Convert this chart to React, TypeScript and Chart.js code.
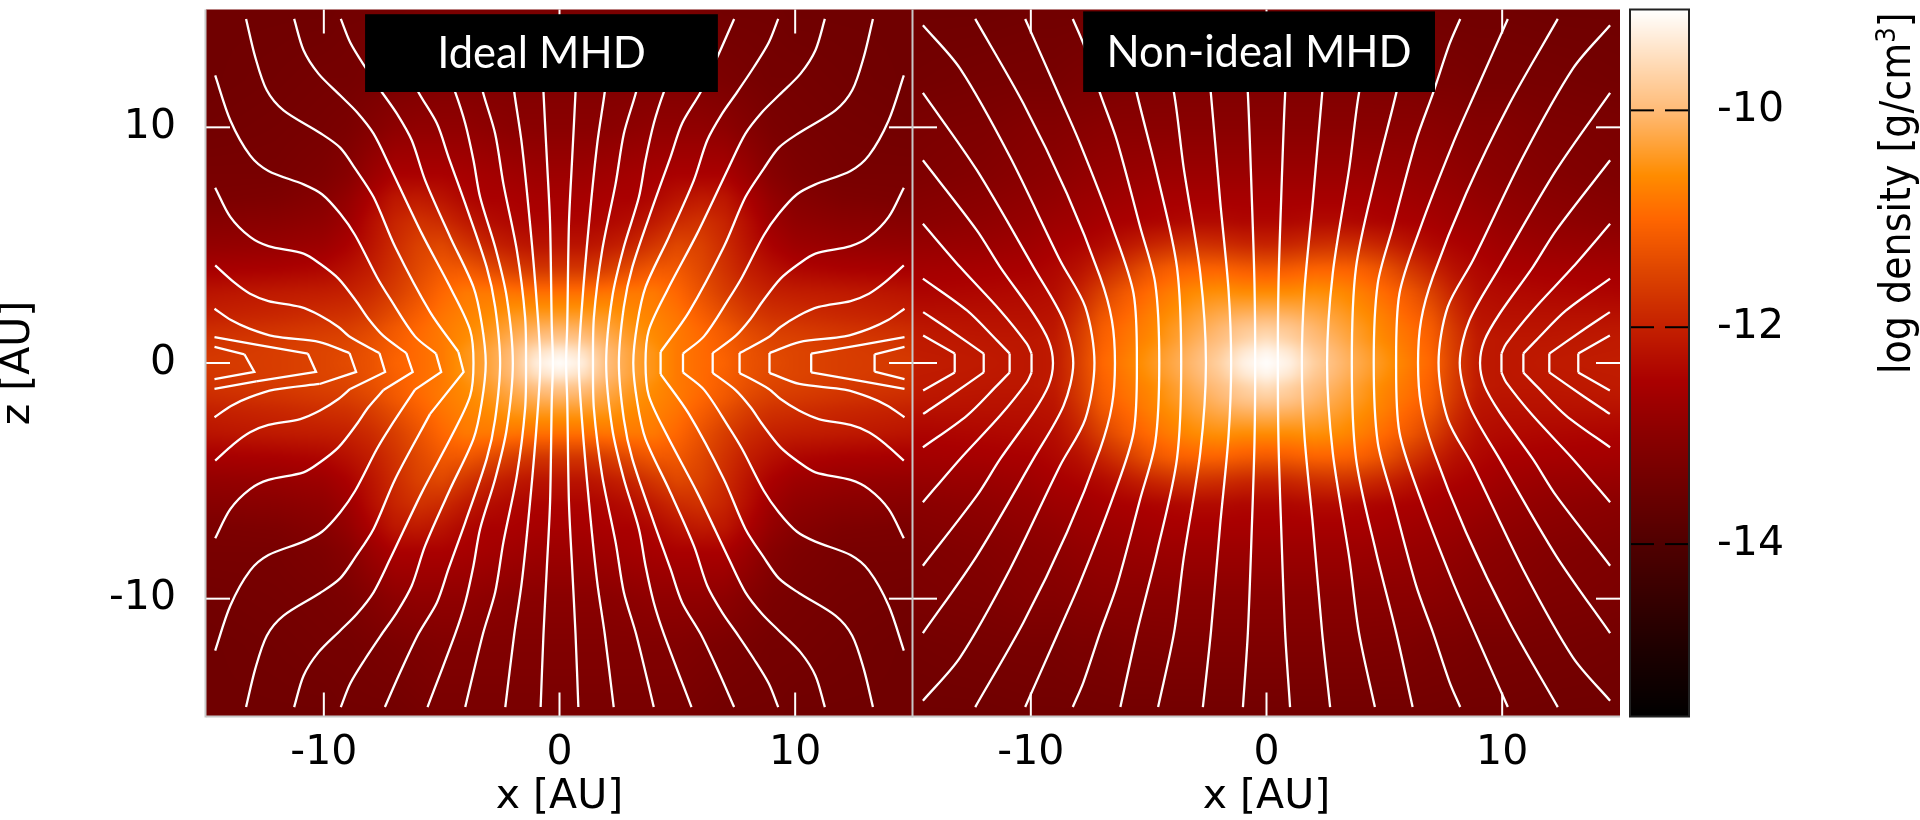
import React, { useEffect, useRef } from "react";
import { Chart, registerables } from "chart.js";

Chart.register(...registerables);

// ---- axes
const axisTicks = [-14, -12, -10, -8, -6, -4, -2, 0, 2, 4, 6, 8, 10, 12, 14];
const labelledTicks = [-10, 0, 10];
const colorbarTicks = [-15, -14, -13, -12, -11, -10];
const colorbarLabels = [-14, -12, -10];

// ---- colour table (log density -> colour)
const colorLevels = [-15.6, -15, -14, -13, -12.5, -12, -11.5, -11, -10.6, -10, -9.07];
const colorValues = [
  [0, 0, 0], [28, 0, 0], [80, 0, 0], [138, 0, 0], [170, 0, 0], [196, 32, 0],
  [221, 68, 0], [255, 102, 0], [255, 140, 0], [255, 187, 119], [255, 255, 255],
];

// ---- log density, one quadrant (|x|, |z|)
const densityXNodes = [0, 1, 2, 3, 4, 5, 6, 7, 8, 9, 10, 12, 15];
const densityZNodes = [0, 0.5, 1, 1.5, 2, 3, 4, 5, 6, 7, 8, 10, 12, 15];
const idealDensity = [
  [-9.07, -9.3, -9.95, -10.3, -10.5, -10.8, -10.95, -11.05, -11.3, -11.4, -11.5, -11.6, -11.65],
  [-9.3, -9.5, -10, -10.3, -10.5, -10.8, -10.95, -11.1, -11.3, -11.45, -11.5, -11.6, -11.7],
  [-9.8, -9.9, -10.15, -10.4, -10.6, -10.8, -10.95, -11.15, -11.35, -11.5, -11.55, -11.65, -11.75],
  [-10.1, -10.15, -10.3, -10.5, -10.65, -10.8, -11, -11.2, -11.45, -11.6, -11.65, -11.75, -11.85],
  [-10.4, -10.4, -10.45, -10.6, -10.7, -10.85, -11.1, -11.35, -11.6, -11.75, -11.8, -11.9, -12],
  [-10.9, -10.9, -10.85, -10.8, -10.8, -11, -11.3, -11.6, -11.85, -12, -12.05, -12.1, -12.2],
  [-11.7, -11.7, -11.6, -11.4, -11.2, -11.2, -11.45, -11.75, -12.05, -12.25, -12.4, -12.5, -12.55],
  [-12.2, -12.2, -12.1, -11.95, -11.7, -11.45, -11.55, -11.85, -12.2, -12.5, -12.7, -12.8, -12.85],
  [-12.45, -12.45, -12.4, -12.3, -12.1, -11.85, -11.75, -11.95, -12.3, -12.7, -12.9, -13, -13.05],
  [-12.55, -12.55, -12.5, -12.5, -12.4, -12.2, -12.1, -12.15, -12.5, -12.85, -13.05, -13.2, -13.25],
  [-12.7, -12.7, -12.65, -12.6, -12.55, -12.5, -12.5, -12.5, -12.75, -13.05, -13.2, -13.3, -13.3],
  [-13, -13, -13, -12.95, -12.9, -12.9, -12.9, -12.95, -13.1, -13.25, -13.3, -13.35, -13.4],
  [-13.15, -13.15, -13.15, -13.15, -13.15, -13.15, -13.2, -13.25, -13.3, -13.35, -13.35, -13.4, -13.45],
  [-13.3, -13.3, -13.3, -13.3, -13.3, -13.3, -13.35, -13.4, -13.4, -13.4, -13.45, -13.45, -13.45],
];
const nonIdealDensity = [
  [-9.07, -9.25, -9.7, -10, -10.25, -10.5, -10.75, -11, -11.6, -12.1, -12.15, -12.1, -12.05],
  [-9.2, -9.4, -9.8, -10.05, -10.3, -10.55, -10.8, -11.05, -11.62, -12.1, -12.15, -12.12, -12.08],
  [-9.5, -9.7, -9.95, -10.15, -10.4, -10.65, -10.85, -11.1, -11.65, -12.1, -12.15, -12.15, -12.1],
  [-9.75, -9.85, -10.05, -10.25, -10.45, -10.7, -10.9, -11.15, -11.7, -12.15, -12.2, -12.2, -12.15],
  [-10.05, -10.1, -10.2, -10.35, -10.55, -10.75, -11, -11.25, -11.8, -12.2, -12.25, -12.25, -12.25],
  [-10.6, -10.6, -10.55, -10.6, -10.75, -10.95, -11.2, -11.55, -12, -12.3, -12.35, -12.4, -12.45],
  [-11.2, -11.15, -11.05, -11.05, -11.1, -11.3, -11.65, -11.95, -12.25, -12.4, -12.5, -12.55, -12.6],
  [-11.95, -11.9, -11.8, -11.75, -11.8, -11.95, -12.15, -12.35, -12.45, -12.55, -12.65, -12.75, -12.8],
  [-12.4, -12.4, -12.35, -12.35, -12.4, -12.45, -12.5, -12.55, -12.65, -12.7, -12.8, -12.9, -13],
  [-12.55, -12.55, -12.55, -12.55, -12.55, -12.6, -12.65, -12.7, -12.75, -12.85, -12.9, -13, -13.1],
  [-12.72, -12.72, -12.72, -12.72, -12.72, -12.75, -12.78, -12.82, -12.88, -12.95, -13, -13.1, -13.2],
  [-13, -13, -13, -13, -13, -13, -13, -13, -13.05, -13.1, -13.1, -13.2, -13.25],
  [-13.18, -13.18, -13.18, -13.18, -13.18, -13.2, -13.2, -13.25, -13.25, -13.3, -13.3, -13.32, -13.38],
  [-13.4, -13.4, -13.4, -13.4, -13.4, -13.4, -13.4, -13.4, -13.42, -13.42, -13.42, -13.45, -13.45],
];

// ---- field lines, upper-left quadrant, [x, z]
const idealLines = [
  [[-14.64, 0.68], [-13.37, 0.37]],
  [[-14.64, 1.1], [-12.87, 0.78], [-10.68, 0.4]],
  [[-14.64, 2.3], [-13.94, 1.82], [-13.16, 1.46], [-12.1, 1.13], [-10.18, 0.89], [-8.91, 0.42]],
  [[-14.61, 4.14], [-13.83, 3.44], [-13.13, 2.94], [-12.35, 2.63], [-11, 2.38], [-10.16, 2.02], [-9.38, 1.53], [-8.88, 1.1], [-7.64, 0.42]],
  [[-14.61, 7.44], [-13.97, 6.2], [-13.13, 5.35], [-12.35, 4.96], [-10.86, 4.64], [-10.16, 4.21], [-9.38, 3.58], [-8.6, 2.59], [-8.11, 1.88], [-7.47, 1.15], [-6.5, 0.42]],
  [[-14.61, 12.2], [-13.97, 10.3], [-13.13, 8.81], [-12.35, 8.15], [-10.86, 7.58], [-10.08, 7.16], [-9.31, 6.34], [-8.67, 5.42], [-7.75, 3.65], [-7.19, 2.73], [-6.13, 1.13], [-5.24, 0.4]],
  [[-13.3, 14.6], [-12.91, 12.98], [-12.42, 11.57], [-11.71, 10.72], [-10.16, 9.76], [-9.31, 9.14], [-8.67, 8.25], [-7.89, 7.04], [-6.97, 4.92], [-5.49, 2.16], [-4.29, 0.47]],
  [[-11.26, 14.6], [-10.86, 13.27], [-10.23, 12.28], [-9.31, 11.36], [-8.6, 10.65], [-7.89, 9.73], [-7.19, 8.32], [-5.84, 5.49], [-4.57, 3.08], [-3.79, 1.39], [-3.65, 0]],
  [[-9.28, 14.6], [-8.88, 13.6], [-8.25, 12.56], [-7.54, 11.5], [-6.9, 10.58], [-6.27, 9.45], [-5.7, 7.75], [-4.64, 5.35], [-3.65, 3.22], [-3.3, 1.67], [-3.13, 0]],
  [[-7.41, 14.6], [-6.75, 13.1], [-5.99, 11.5], [-5.2, 10.16], [-4.71, 8.74], [-4, 6.76], [-3.09, 4.07], [-2.73, 2.38], [-2.52, 0]],
  [[-5.6, 14.6], [-4.43, 11.5], [-4, 10.16], [-3.65, 8.6], [-3.37, 7.04], [-2.73, 4.92], [-2.24, 2.8], [-1.98, 0]],
  [[-4, 14.6], [-3.25, 11.5], [-2.73, 9.73], [-2.38, 7.6], [-1.81, 4.78], [-1.46, 1.95], [-1.42, 0]],
  [[-2.3, 14.6], [-1.92, 11.5], [-1.6, 9.3], [-1.25, 5.9], [-0.96, 2.5], [-0.82, 0]],
  [[-0.8, 14.6], [-0.68, 11.5], [-0.54, 8.74], [-0.4, 5.9], [-0.33, 1.67], [-0.28, 0]],
];
const idealVertexX = [-12.95, -10.33, -8.63, -7.4, -6.23, -5.02, -4.07, null, null, null, null, null, null, null];
const nonIdealLines = [
  [[-14.57, 1.17], [-13.23, 0.4]],
  [[-14.57, 2.16], [-13.42, 1.39], [-12, 0.4]],
  [[-14.58, 3.58], [-12.71, 2.23], [-11.44, 0.96], [-10.9, 0.4]],
  [[-14.58, 5.91], [-13, 4.07], [-11.3, 2.23], [-10.17, 0.82], [-9.97, 0.4]],
  [[-14.58, 8.6], [-12.29, 5.63], [-11.3, 4.07], [-9.89, 2.09], [-9.25, 0.96], [-9.06, 0]],
  [[-14.58, 11.46], [-12.29, 8.18], [-9.89, 4.07], [-8.61, 1.81], [-8.2, 0]],
  [[-14.58, 14.33], [-13, 12.49], [-10.88, 8.74], [-8.76, 4.36], [-7.69, 2.38], [-7.3, 0]],
  [[-12.36, 14.6], [-10.31, 11], [-8.47, 7.19], [-7.06, 3.65], [-6.56, 1.81], [-6.43, 0]],
  [[-10.24, 14.6], [-8.9, 11.57], [-7.91, 9.31], [-6.49, 5.63], [-5.64, 2.94], [-5.5, 0]],
  [[-8.22, 14.6], [-7.77, 13.55], [-7.06, 11.43], [-6.35, 9.45], [-5.36, 5.77], [-4.72, 3.37], [-4.55, 0]],
  [[-6.2, 14.6], [-5.5, 11.43], [-4.65, 8.03], [-3.8, 4.07], [-3.62, 0]],
  [[-4.6, 14.6], [-3.92, 11.43], [-3.52, 8.32], [-2.81, 3.79], [-2.57, 0]],
  [[-2.7, 14.6], [-2.36, 11.43], [-1.97, 6.9], [-1.61, 3.08], [-1.5, 0]],
  [[-1, 14.6], [-0.79, 11.43], [-0.62, 6.9], [-0.51, 3.37], [-0.48, 0]],
];
const nonIdealVertexX = nonIdealLines.map(() => null);

// ---- titles
const idealTitle = "Ideal MHD";
const nonIdealTitle = "Non-ideal MHD";
const idealTitleBox = [-8.25, 6.72, 14.8, 11.5];
const nonIdealTitleBox = [-7.78, 7.15, 14.92, 11.5];

const FONT = "'DejaVu Sans'";
const GREY = "#c8c8c8";

function buildLut() {
  const n = 2048;
  const lut = new Uint8ClampedArray(n * 3);
  const lo = colorLevels[0];
  const hi = colorLevels[colorLevels.length - 1];
  let k = 0;
  for (let i = 0; i < n; i++) {
    const v = lo + ((hi - lo) * i) / (n - 1);
    while (k < colorLevels.length - 2 && v > colorLevels[k + 1]) k++;
    const t = (v - colorLevels[k]) / (colorLevels[k + 1] - colorLevels[k]);
    for (let c = 0; c < 3; c++) lut[i * 3 + c] = colorValues[k][c] + (colorValues[k + 1][c] - colorValues[k][c]) * t;
  }
  return { lut, n, lo, hi };
}
const LUT = buildLut();
function lutIndex(v: number) {
  const i = Math.round(((v - LUT.lo) / (LUT.hi - LUT.lo)) * (LUT.n - 1));
  return Math.max(0, Math.min(LUT.n - 1, i)) * 3;
}

function locate(nodes: number[], value: number) {
  const v = Math.min(Math.abs(value), nodes[nodes.length - 1]);
  let i = 0;
  while (i < nodes.length - 2 && v > nodes[i + 1]) i++;
  return [i, (v - nodes[i]) / (nodes[i + 1] - nodes[i])];
}

function drawDensity(chart: any, rows: number[][]) {
  const { ctx, chartArea: a, scales } = chart;
  const m = 8;
  const W = Math.round(a.width) + 2 * m;
  const H = Math.round(a.height) + 2 * m;
  const off = document.createElement("canvas");
  off.width = W;
  off.height = H;
  const octx = off.getContext("2d")!;
  const img = octx.createImageData(W, H);
  const cols: number[][] = [];
  for (let i = 0; i < W; i++) cols.push(locate(densityXNodes, scales.x.getValueForPixel(a.left - m + i + 0.5)));
  let p = 0;
  for (let j = 0; j < H; j++) {
    const [r, fr] = locate(densityZNodes, scales.y.getValueForPixel(a.top - m + j + 0.5));
    for (let i = 0; i < W; i++) {
      const [c, fc] = cols[i];
      const v =
        (rows[r][c] * (1 - fc) + rows[r][c + 1] * fc) * (1 - fr) +
        (rows[r + 1][c] * (1 - fc) + rows[r + 1][c + 1] * fc) * fr;
      const q = lutIndex(v);
      img.data[p++] = LUT.lut[q];
      img.data[p++] = LUT.lut[q + 1];
      img.data[p++] = LUT.lut[q + 2];
      img.data[p++] = 255;
    }
  }
  octx.putImageData(img, 0, 0);
  ctx.save();
  ctx.beginPath();
  ctx.rect(a.left, a.top, a.width, a.height);
  ctx.clip();
  ctx.filter = "blur(2.5px)";
  ctx.drawImage(off, a.left - m, a.top - m);
  ctx.restore();
}

function seg(ctx: any, x1: number, y1: number, x2: number, y2: number) {
  ctx.beginPath();
  ctx.moveTo(x1, y1);
  ctx.lineTo(x2, y2);
  ctx.stroke();
}

function panelPlugin(rows: number[][], title: string, box: number[]) {
  return {
    id: "panel",
    beforeDatasetsDraw(chart: any) {
      drawDensity(chart, rows);
    },
    afterDatasetsDraw(chart: any) {
      const { ctx, chartArea: a, scales } = chart;
      ctx.save();
      // ticks on the four sides
      ctx.strokeStyle = "#ffffff";
      ctx.lineWidth = 2;
      for (const t of scales.x.ticks) {
        const p = scales.x.getPixelForValue(t.value);
        const len = t.value % 10 === 0 ? 24 : 12;
        seg(ctx, p, a.bottom, p, a.bottom - len);
        seg(ctx, p, a.top, p, a.top + len);
      }
      for (const t of scales.y.ticks) {
        const p = scales.y.getPixelForValue(t.value);
        const len = t.value % 10 === 0 ? 24 : 12;
        seg(ctx, a.left, p, a.left + len, p);
        seg(ctx, a.right, p, a.right - len, p);
      }
      // frame
      ctx.strokeStyle = GREY;
      seg(ctx, a.left - 0.5, a.top, a.left - 0.5, a.bottom + 1);
      seg(ctx, a.left, a.bottom, a.right, a.bottom);
      // title box
      const x1 = scales.x.getPixelForValue(box[0]);
      const x2 = scales.x.getPixelForValue(box[1]);
      const y1 = scales.y.getPixelForValue(box[2]);
      const y2 = scales.y.getPixelForValue(box[3]);
      ctx.fillStyle = "#000000";
      ctx.fillRect(x1, y1, x2 - x1, y2 - y1);
      ctx.fillStyle = "#ffffff";
      ctx.font = "43.5px Lato";
      ctx.textAlign = "center";
      ctx.textBaseline = "middle";
      ctx.fillText(title, (x1 + x2) / 2, (y1 + y2) / 2 + 1);
      ctx.restore();
    },
  };
}

type Pt = { x: number; y: number };
const toPts = (list: number[][]): Pt[] => list.map(([x, y]) => ({ x, y }));

// Each line: smooth upper arm, sharp corner at the midplane, smooth lower arm.
function paths(lines: number[][][], vertices: (number | null)[]) {
  const out: { data: Pt[]; tension: number }[] = [];
  const add = (list: number[][], tension: number) => out.push({ data: toPts(list), tension });
  lines.forEach((line, i) => {
    const tail = line[line.length - 1];
    const flipX = (l: number[][]) => l.map(([x, z]) => [-x, z]);
    if (tail[1] === 0) {
      const lower = line.slice(0, -1).reverse().map(([x, z]) => [x, -z]);
      const whole = [...line, ...lower];
      add(whole, 0.3);
      add(flipX(whole), 0.3);
      return;
    }
    const lower = line.slice().reverse().map(([x, z]) => [x, -z]);
    // right side: flat corner from (x, +z) to (x, -z)
    add(flipX(line), 0.3);
    add(flipX([tail, lower[0]]), 0);
    add(flipX(lower), 0.3);
    // left side: corner at the read vertex
    const vx = vertices[i];
    if (vx === null) {
      add(line, 0.3);
      add([tail, lower[0]], 0);
      add(lower, 0.3);
    } else {
      const rest = lower.slice(1);
      add(line, 0.3);
      add([tail, [vx, -0.38], rest[0]], 0);
      add(rest, 0.3);
    }
  });
  return out;
}

function panelConfig(
  rows: number[][], lines: number[][][], vertices: (number | null)[],
  title: string, box: number[], yWidth: number, showY: boolean,
) {
  const tickFont = { family: FONT, size: 41 };
  return {
    type: "scatter",
    data: {
      datasets: paths(lines, vertices).map(({ data, tension }) => ({
        data,
        showLine: true,
        borderColor: "#ffffff",
        borderWidth: 2.3,
        pointRadius: 0,
        tension,
      })),
    },
    plugins: [panelPlugin(rows, title, box)],
    options: {
      animation: false,
      responsive: false,
      devicePixelRatio: 1,
      layout: { padding: { top: 9.5, left: 0, right: 0, bottom: 0 } },
      plugins: { legend: { display: false }, tooltip: { enabled: false } },
      events: [],
      scales: {
        x: {
          type: "linear",
          min: -15,
          max: 15,
          grid: { display: false, drawTicks: false },
          border: { display: false },
          title: { display: true, text: "x [AU]", color: "#000", padding: 0, font: { family: FONT, size: 41, lineHeight: 1.1 } },
          ticks: {
            color: "#000",
            font: tickFont,
            padding: 12,
            maxRotation: 0,
            autoSkip: false,
            callback: (v: number) => (labelledTicks.includes(v) ? String(v) : null),
          },
          afterBuildTicks: (s: any) => { s.ticks = axisTicks.map((value) => ({ value })); },
          afterFit: (s: any) => {
            s.height = 103.5;
            s.paddingLeft = s.paddingRight = s.paddingTop = s.paddingBottom = 0;
          },
        },
        y: {
          type: "linear",
          min: -15,
          max: 15,
          grid: { display: false, drawTicks: false },
          border: { display: false },
          title: { display: showY, text: "z [AU]", color: "#000", padding: 0, font: { family: FONT, size: 41, lineHeight: 0.9 } },
          ticks: {
            display: showY,
            color: "#000",
            font: tickFont,
            padding: 30,
            autoSkip: false,
            callback: (v: number) => (labelledTicks.includes(v) ? String(v) : null),
          },
          afterBuildTicks: (s: any) => { s.ticks = axisTicks.map((value) => ({ value })); },
          afterFit: (s: any) => {
            s.width = yWidth;
            s.paddingLeft = s.paddingRight = s.paddingTop = s.paddingBottom = 0;
          },
        },
      },
    },
  };
}

const colorbarPlugin = {
  id: "colorbar",
  beforeDatasetsDraw(chart: any) {
    const { ctx, chartArea: a, scales } = chart;
    ctx.save();
    for (let py = Math.floor(a.top); py < a.bottom; py++) {
      const q = lutIndex(scales.y.getValueForPixel(py + 0.5));
      ctx.fillStyle = `rgb(${LUT.lut[q]},${LUT.lut[q + 1]},${LUT.lut[q + 2]})`;
      ctx.fillRect(a.left, py, a.width, 1);
    }
    ctx.strokeStyle = "#000000";
    ctx.lineWidth = 2;
    for (const t of scales.y.ticks) {
      const p = scales.y.getPixelForValue(t.value);
      const len = t.value % 2 === 0 ? 24 : 12;
      seg(ctx, a.left, p, a.left + len, p);
      seg(ctx, a.right, p, a.right - len, p);
    }
    ctx.strokeStyle = "#222222";
    ctx.strokeRect(a.left, a.top, a.width, a.height);
    // rotated axis title, slightly compressed along its length as in the picture
    ctx.fillStyle = "#000000";
    ctx.translate(310, 374);
    ctx.rotate(-Math.PI / 2);
    ctx.scale(0.905, 1);
    ctx.textAlign = "left";
    ctx.textBaseline = "alphabetic";
    ctx.font = `42px ${FONT}`;
    const head = "log density [g/cm";
    ctx.fillText(head, 0, 0);
    let w = ctx.measureText(head).width;
    ctx.font = `27px ${FONT}`;
    ctx.fillText("3", w, -15);
    w += ctx.measureText("3").width;
    ctx.font = `42px ${FONT}`;
    ctx.fillText("]", w, 0);
    ctx.restore();
  },
};

const colorbarConfig = {
  type: "scatter",
  data: {
    datasets: [{ data: colorLevels.map((y) => ({ x: 0, y })), pointRadius: 0 }],
  },
  plugins: [colorbarPlugin],
  options: {
    animation: false,
    responsive: false,
    devicePixelRatio: 1,
    events: [],
    layout: { padding: { top: 9.5, left: 30, right: 0, bottom: 103.5 } },
    plugins: { legend: { display: false }, tooltip: { enabled: false } },
    scales: {
      x: { type: "linear", display: false, min: -1, max: 1 },
      y: {
        type: "linear",
        position: "right",
        min: -15.59,
        max: -9.07,
        grid: { display: false, drawTicks: false },
        border: { display: false },
        ticks: {
          color: "#000",
          font: { family: FONT, size: 41 },
          padding: 28,
          autoSkip: false,
          callback: (v: number) => (colorbarLabels.includes(v) ? String(v) : null),
        },
        afterBuildTicks: (s: any) => { s.ticks = colorbarTicks.map((value) => ({ value })); },
        afterFit: (s: any) => {
          s.width = 231;
          s.paddingLeft = s.paddingRight = s.paddingTop = s.paddingBottom = 0;
        },
      },
    },
  },
};

export default function App() {
  const leftRef = useRef<HTMLCanvasElement>(null);
  const rightRef = useRef<HTMLCanvasElement>(null);
  const barRef = useRef<HTMLCanvasElement>(null);

  useEffect(() => {
    const charts = [
      new Chart(leftRef.current as any, panelConfig(idealDensity, idealLines, idealVertexX, idealTitle, idealTitleBox, 206, true) as any),
      new Chart(rightRef.current as any, panelConfig(nonIdealDensity, nonIdealLines, nonIdealVertexX, nonIdealTitle, nonIdealTitleBox, 33, false) as any),
      new Chart(barRef.current as any, colorbarConfig as any),
    ];
    return () => charts.forEach((c) => c.destroy());
  }, []);

  const abs = (left: number): React.CSSProperties => ({ position: "absolute", left, top: 0, display: "block" });
  return (
    <div style={{ position: "fixed", left: 0, top: 0, width: 1920, height: 820, background: "#fff", overflow: "hidden" }}>
      <canvas ref={leftRef} width={913} height={820} style={abs(0)} />
      <canvas ref={rightRef} width={740} height={820} style={abs(880)} />
      <canvas ref={barRef} width={320} height={820} style={abs(1600)} />
    </div>
  );
}
